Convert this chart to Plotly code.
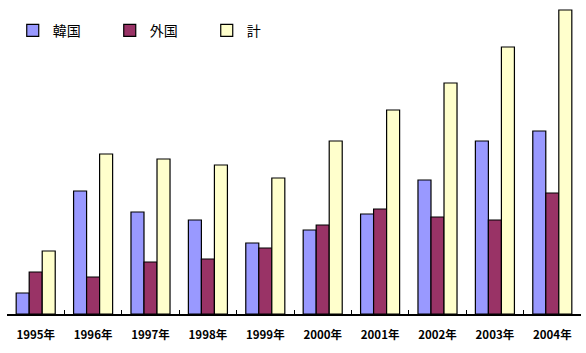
import plotly.graph_objects as go

years = ["1995年", "1996年", "1997年", "1998年", "1999年",
         "2000年", "2001年", "2002年", "2003年", "2004年"]
korea = [21, 123, 102, 94, 71, 84, 100, 134, 173, 183]
foreign = [42, 37, 52, 55, 66, 89, 105, 97, 94, 121]
total = [63, 160, 155, 149, 136, 173, 204, 231, 267, 304]

series = [("韓国", korea, "#9999FF"), ("外国", foreign, "#993366"), ("計", total, "#FFFFCC")]

fig = go.Figure()
for name, vals, col in series:
    fig.add_trace(go.Bar(x=years, y=vals, name=name,
                         marker=dict(color=col, line=dict(color="black", width=1.2))))

fig.update_layout(
    width=586, height=353,
    margin=dict(l=7, r=5, t=4, b=39),
    plot_bgcolor="white", paper_bgcolor="white",
    barmode="group", bargap=0.32, bargroupgap=0,
    font=dict(family="Noto Sans CJK JP", color="black"),
    showlegend=True,
    legend=dict(orientation="h", x=0.01, y=0.965, xanchor="left", yanchor="top",
                font=dict(size=14, family="Noto Sans CJK JP"),
                entrywidth=52, entrywidthmode="pixels",
                bgcolor="rgba(0,0,0,0)", itemclick=False),
    xaxis=dict(showline=True, linecolor="black", linewidth=1.5,
               ticks="inside", ticklen=4, tickcolor="black", tickson="boundaries",
               ticklabelstandoff=9,
               tickfont=dict(size=11.5, family="Noto Sans CJK JP", color="black", weight="bold"),
               showgrid=False),
    yaxis=dict(range=[0, 310], visible=False, showgrid=False),
)

fig.write_html("out.html")
